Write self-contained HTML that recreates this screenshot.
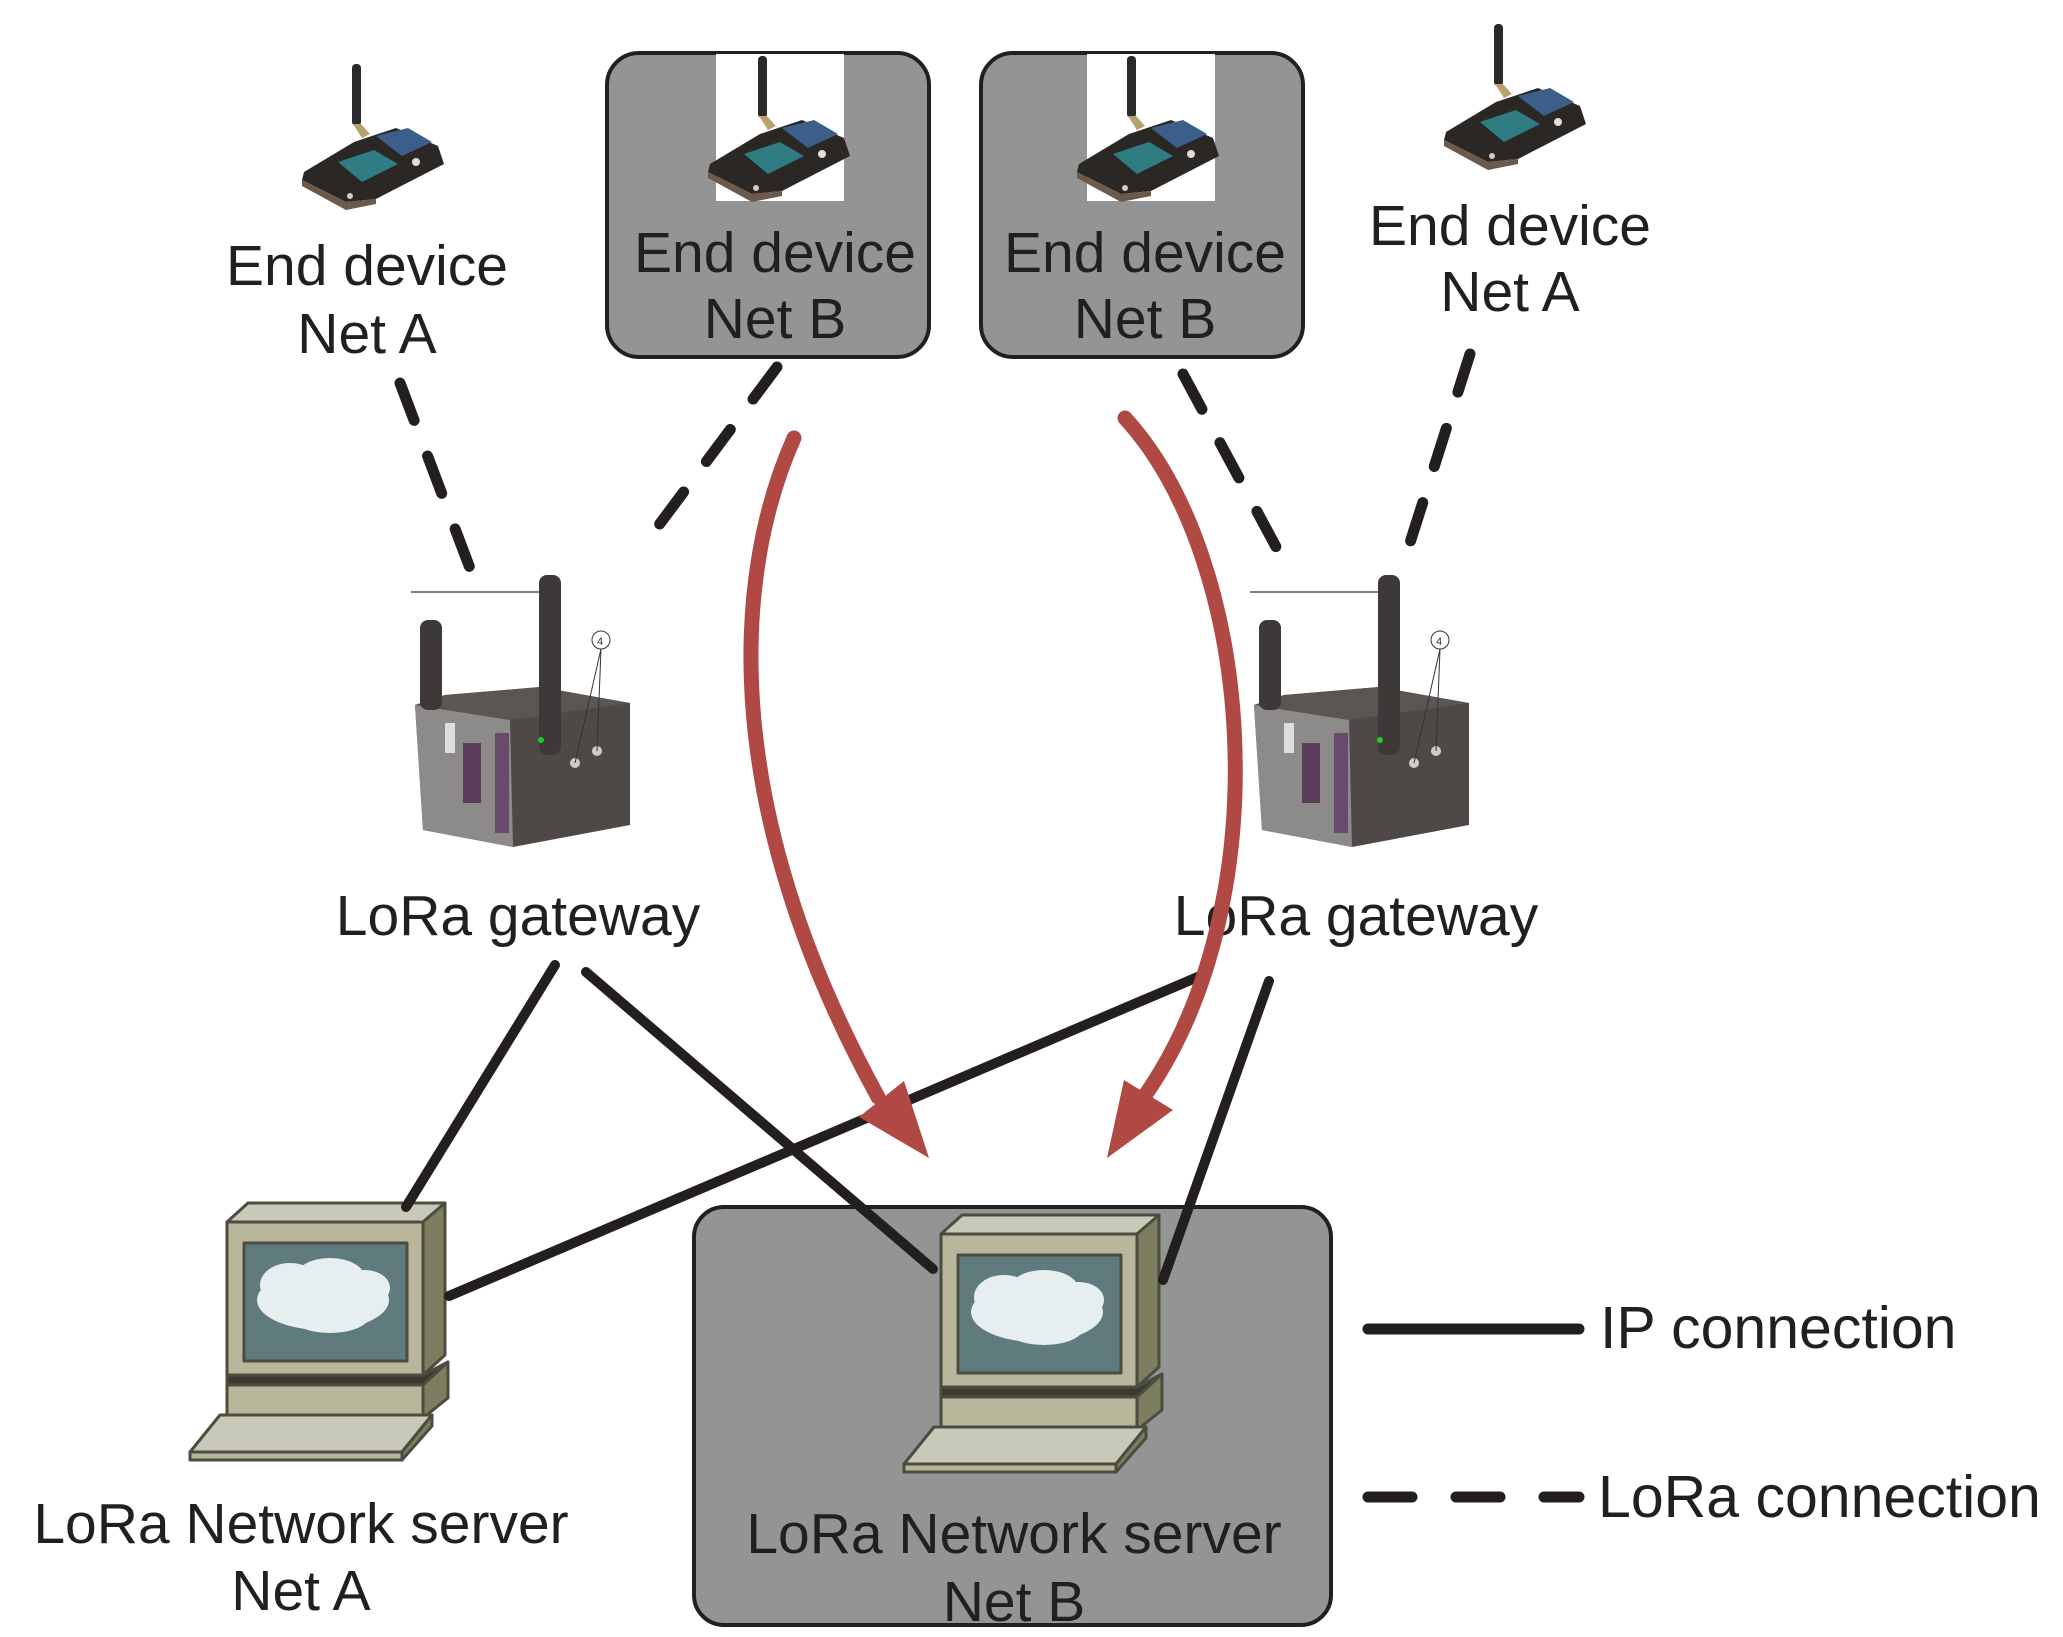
<!DOCTYPE html>
<html><head><meta charset="utf-8"><style>
html,body{margin:0;padding:0;background:#fff;}
svg{display:block;}
text{font-family:"Liberation Sans",Arial,sans-serif;fill:#231f20;}
</style></head><body>
<svg width="2063" height="1637" viewBox="0 0 2063 1637" xmlns="http://www.w3.org/2000/svg">
<defs>
<g id="dev">
  <!-- antenna top at 0,0 -->
  <rect x="-4" y="0" width="9" height="62" rx="4" fill="#2a2a2a"/>
  <polygon points="-3,60 5,60 14,70 6,74" fill="#b8a070"/>
  <polygon points="-52,108 -2,78 40,64 82,82 88,100 20,135 -10,138 -54,116" fill="#2b2725"/>
  <polygon points="20,72 52,64 76,78 46,92" fill="#3b5f8a"/>
  <polygon points="-18,98 18,86 42,100 6,118" fill="#2f7d82"/>
  <polygon points="-54,116 -10,138 20,135 20,140 -10,146 -54,122" fill="#6b5a4a"/>
  <circle cx="60" cy="98" r="4" fill="#ddd"/>
  <circle cx="-6" cy="132" r="3" fill="#ccc"/>
</g>
<g id="gw">
  <!-- origin at left antenna region -->
  <polygon points="0,130 30,120 125,112 215,128 215,250 98,272 8,255" fill="#4e4946"/>
  <polygon points="0,130 95,145 98,272 8,255" fill="#8d8b8a"/>
  <polygon points="0,130 30,120 125,112 215,128 95,145" fill="#5c5653"/>
  <rect x="48" y="168" width="18" height="60" fill="#5a3e5a"/>
  <rect x="80" y="158" width="14" height="100" fill="#6a4a6a"/>
  <rect x="30" y="148" width="10" height="30" fill="#ddd"/>
  <rect x="5" y="45" width="22" height="90" rx="8" fill="#3c3938"/>
  <rect x="124" y="0" width="22" height="180" rx="8" fill="#3c3938"/>
  <circle cx="160" cy="188" r="5" fill="#ccc"/>
  <circle cx="182" cy="176" r="5" fill="#ccc"/>
  <circle cx="126" cy="165" r="3" fill="#2c2"/>
  <circle cx="186" cy="65" r="9" fill="#fff" stroke="#333" stroke-width="1"/>
  <text x="182" y="70" font-size="11" style="fill:#333">4</text>
  <line x1="186" y1="74" x2="160" y2="188" stroke="#333" stroke-width="1"/>
  <line x1="186" y1="74" x2="182" y2="176" stroke="#333" stroke-width="1"/>
  <line x1="-4" y1="17" x2="124" y2="17" stroke="#555" stroke-width="1.5"/>
</g>
<g id="pc" stroke="#4d4d3f" stroke-width="3" stroke-linejoin="round">
  <polygon points="47,32 68,13 265,13 243,32" fill="#c8c9b8"/>
  <polygon points="243,32 265,13 265,165 243,185" fill="#7d7d5f"/>
  <rect x="47" y="32" width="196" height="153" fill="#b8b79c"/>
  <rect x="64" y="53" width="163" height="118" fill="#5f7b7e"/>
  <g fill="#e6eef0" stroke="none">
    <ellipse cx="143" cy="110" rx="66" ry="30"/>
    <ellipse cx="110" cy="95" rx="30" ry="22"/>
    <ellipse cx="150" cy="88" rx="35" ry="20"/>
    <ellipse cx="185" cy="98" rx="25" ry="18"/>
    <ellipse cx="150" cy="125" rx="40" ry="18"/>
  </g>
  <polygon points="47,185 243,185 268,172 243,195 47,195" fill="#3a3a32"/>
  <rect x="47" y="195" width="196" height="33" fill="#b8b79c"/>
  <polygon points="243,195 268,172 268,208 243,228" fill="#7d7d5f"/>
  <polygon points="10,262 40,225 252,225 222,262" fill="#c8c9b8"/>
  <polygon points="10,262 222,262 222,270 10,270" fill="#b8b79c"/>
  <polygon points="222,262 252,225 252,236 222,270" fill="#7d7d5f"/>
</g>
</defs>

<!-- Net B end device boxes -->
<rect x="607" y="53" width="322" height="304" rx="32" fill="#939594" stroke="#231f20" stroke-width="4"/>
<rect x="981" y="53" width="322" height="304" rx="32" fill="#939594" stroke="#231f20" stroke-width="4"/>
<rect x="716" y="54" width="128" height="147" fill="#fff"/>
<rect x="1087" y="54" width="128" height="147" fill="#fff"/>
<use href="#dev" x="762" y="56"/>
<use href="#dev" x="1131" y="56"/>
<use href="#dev" x="356" y="64"/>
<use href="#dev" x="1498" y="24"/>

<!-- Net B server box -->
<rect x="694" y="1207" width="637" height="418" rx="30" fill="#939594" stroke="#231f20" stroke-width="4"/>

<!-- labels -->
<g font-size="57" text-anchor="middle">
<text x="367" y="285">End device</text><text x="367" y="353">Net A</text>
<text x="775" y="272">End device</text><text x="775" y="338">Net B</text>
<text x="1145" y="272">End device</text><text x="1145" y="338">Net B</text>
<text x="1510" y="245">End device</text><text x="1510" y="311">Net A</text>
<text x="518" y="935">LoRa gateway</text>
<text x="1356" y="935">LoRa gateway</text>
<text x="301" y="1543">LoRa Network server</text><text x="301" y="1610">Net A</text>
<text x="1014" y="1553">LoRa Network server</text><text x="1014" y="1621">Net B</text>
</g>

<!-- gateways -->
<use href="#gw" x="415" y="575"/>
<use href="#gw" x="1254" y="575"/>

<!-- dashed LoRa -->
<g stroke="#231f20" stroke-width="11" stroke-linecap="round" stroke-dasharray="40 38" fill="none">
<line x1="400" y1="383" x2="471" y2="571"/>
<line x1="777" y1="367" x2="641" y2="549"/>
<line x1="1183" y1="374" x2="1289" y2="571"/>
<line x1="1470" y1="354" x2="1401" y2="571"/>
</g>

<!-- computers -->
<use href="#pc" x="180" y="1190"/>
<use href="#pc" x="894" y="1202"/>

<!-- IP lines -->
<g stroke="#231f20" stroke-width="10" stroke-linecap="round" fill="none">
<line x1="555" y1="965" x2="406" y2="1207"/>
<line x1="586" y1="972" x2="933" y2="1269"/>
<line x1="1200" y1="976" x2="449" y2="1296"/>
<line x1="1269" y1="981" x2="1163" y2="1280"/>
</g>

<!-- red arrows -->
<g stroke="#b04844" stroke-width="15" stroke-linecap="round" fill="none">
<path d="M794,438 C735,570 715,800 878,1097"/>
<path d="M1125,418 C1255,560 1280,900 1146,1094"/>
</g>
<polygon points="929,1158 859,1117 904,1081" fill="#b04844"/>
<polygon points="1107,1158 1124,1080 1173,1110" fill="#b04844"/>

<!-- legend -->
<line x1="1368" y1="1329" x2="1579" y2="1329" stroke="#231f20" stroke-width="11" stroke-linecap="round"/>
<g stroke="#231f20" stroke-width="11" stroke-linecap="round">
<line x1="1368" y1="1497" x2="1412" y2="1497"/>
<line x1="1456" y1="1497" x2="1500" y2="1497"/>
<line x1="1544" y1="1497" x2="1579" y2="1497"/>
</g>
<text x="1600" y="1348" font-size="59">IP connection</text>
<text x="1598" y="1517" font-size="59">LoRa connection</text>
</svg>
</body></html>
